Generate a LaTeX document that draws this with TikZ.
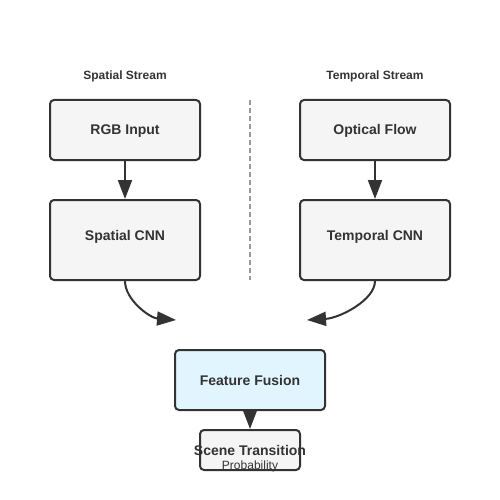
\documentclass[tikz,border=0pt]{standalone}
\usepackage{fontspec}
\setmainfont{Liberation Sans}
\usetikzlibrary{arrows.meta}
\definecolor{ink}{HTML}{333333}
\definecolor{boxfill}{HTML}{F5F5F5}
\definecolor{fusefill}{HTML}{E1F5FE}
\definecolor{sep}{HTML}{999999}
\tikzset{
  blk/.style={draw=ink, line width=2pt, fill=boxfill, rounded corners=4pt, inner sep=0pt},
  lbl/.style={text=ink, font=\fontsize{14}{16}\selectfont\bfseries, inner sep=0pt, anchor=base},
  streamtitle/.style={text=ink, font=\fontsize{12}{14}\selectfont\bfseries, inner sep=0pt, anchor=base},
  conn/.style={draw=ink, line width=2pt, -{Triangle[length=19pt,width=14pt]}},
}
\begin{document}
\begin{tikzpicture}[x=1pt,y=-1pt]
\useasboundingbox (0,0) rectangle (500,500);
% stream titles
\node[streamtitle] (tsp) at (125,80) {Spatial Stream};
\node[streamtitle] (ttm) at (375,80) {Temporal Stream};
% boxes
\node[blk, minimum width=150pt, minimum height=60pt] (rgb) at (125,130) {};
\node[lbl] (trgb) at (125,135) {RGB Input};
\node[blk, minimum width=150pt, minimum height=80pt] (scnn) at (125,240) {};
\node[lbl] (tscnn) at (125,240) {Spatial CNN};
\node[blk, minimum width=150pt, minimum height=60pt] (of) at (375,130) {};
\node[lbl] (tof) at (375,135) {Optical Flow};
\node[blk, minimum width=150pt, minimum height=80pt] (tcnn) at (375,240) {};
\node[lbl] (ttcnn) at (375,240) {Temporal CNN};
\node[blk, fill=fusefill, minimum width=150pt, minimum height=60pt] (fuse) at (250,380) {};
\node[lbl] (tfuse) at (250,385) {Feature Fusion};
\node[blk, minimum width=100pt, minimum height=40pt] (scene) at (250,450) {};
\node[lbl] (tscene) at (250,455) {Scene Transition};
\node[text=ink, font=\fontsize{12}{14}\selectfont, inner sep=0pt, anchor=base] (tprob) at (250,469.5) {Probability};
% separator
\coordinate (s1) at (250,100);
\coordinate (s2) at (250,280);
\draw[sep, line width=2pt, dash pattern=on 5pt off 3pt] (s1) -- (s2);
% connectors
\draw[conn] (rgb.south) -- (scnn.north);
\draw[conn] (of.south) -- (tcnn.north);
\coordinate (lt) at (176,320);
\coordinate (rt) at (307,320);
\draw[conn] (scnn.south) .. controls (125,300) and (150,318) .. (lt);
\draw[conn] (tcnn.south) .. controls (375,300) and (340,318) .. (rt);
\draw[conn] (fuse.south) -- (scene.north);
\end{tikzpicture}
\end{document}
